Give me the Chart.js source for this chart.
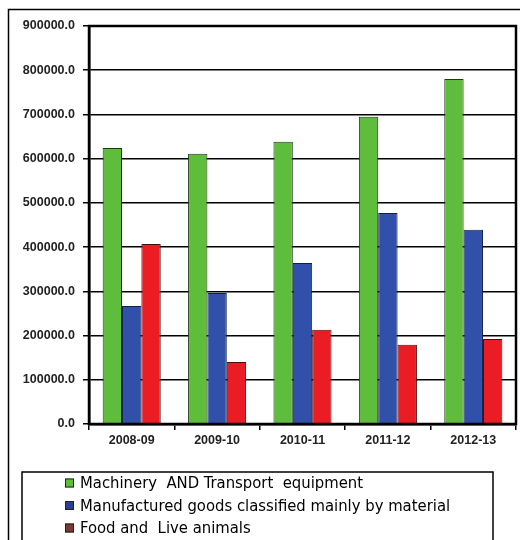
<!DOCTYPE html>
<html>
<head>
<meta charset="utf-8">
<script src="https://cdn.jsdelivr.net/npm/chart.js@4/dist/chart.umd.min.js"></script>
<style>
  html, body { margin: 0; padding: 0; background: #fff; }
  #wrap { width: 520px; height: 540px; position: relative; }
</style>
</head>
<body>
<div id="wrap"><canvas id="c" width="520" height="540"></canvas></div>
<script>
// ── Exports by commodity group, 2008-09 to 2012-13 ───────────────────────────
const years = ['2008-09', '2009-10', '2010-11', '2011-12', '2012-13'];
const machinery    = [624000, 611000, 638000, 695000, 780000];
const manufactured = [267000, 296000, 364000, 477000, 439000];
const food         = [407000, 140000, 213000, 179000, 192000];
const seriesNames  = [
  'Machinery  AND Transport  equipment',
  'Manufactured goods classified mainly by material',
  'Food and  Live animals'
];
const yMax = 900000;
const yStep = 100000;

const tickFont = { family: '"Liberation Sans", Arial, sans-serif', size: 12.5, weight: 'bold' };

// outer frame + plot frame, drawn around the library's chart area
const framePlugin = {
  id: 'frame',
  beforeDraw(chart) {
    const ctx = chart.ctx;
    ctx.save();
    ctx.fillStyle = '#fff';
    ctx.fillRect(0, 0, chart.width, chart.height);
    ctx.strokeStyle = '#000';
    ctx.lineWidth = 1.5;
    ctx.beginPath();
    ctx.moveTo(8.5, chart.height);
    ctx.lineTo(8.5, 9.5);
    ctx.lineTo(chart.width, 9.5);
    ctx.stroke();
    ctx.restore();
  },
  afterDatasetsDraw(chart) {
    const a = chart.chartArea, ctx = chart.ctx;
    ctx.save();
    ctx.strokeStyle = '#000';
    ctx.lineWidth = 2.5;
    ctx.strokeRect(a.left, a.top, a.right - a.left, a.bottom - a.top);
    ctx.restore();
  }
};

// boxed legend below the axis, one series per row
const boxLegend = {
  id: 'boxLegend',
  afterDraw(chart, args, opts) {
    const ctx = chart.ctx;
    ctx.save();
    ctx.strokeStyle = '#000';
    ctx.lineWidth = 1.5;
    ctx.strokeRect(22, 472, 471, 80);
    ctx.font = opts.font;
    ctx.textBaseline = 'middle';
    chart.data.datasets.forEach((ds, i) => {
      const y = 483 + i * 22.5;
      ctx.fillStyle = opts.swatches[i];
      ctx.fillRect(65, y - 4.5, 9, 9);
      ctx.strokeStyle = '#222';
      ctx.lineWidth = 1;
      ctx.strokeRect(65.5, y - 4, 8, 8);
      ctx.fillStyle = '#000';
      ctx.fillText(ds.label, 80, y + 1);
    });
    ctx.restore();
  }
};

new Chart(document.getElementById('c'), {
  type: 'bar',
  data: {
    labels: years,
    datasets: [
      { label: seriesNames[0], data: machinery,    backgroundColor: '#5fbd3c', borderColor: '#1d3a12' },
      { label: seriesNames[1], data: manufactured, backgroundColor: '#3150a9', borderColor: '#10204a' },
      { label: seriesNames[2], data: food,         backgroundColor: '#ec1c24', borderColor: '#4a0d0d' }
    ]
  },
  options: {
    responsive: false,
    animation: false,
    devicePixelRatio: 1,
    layout: { padding: { top: 26, right: 4, bottom: 86, left: 0 } },
    datasets: { bar: { borderWidth: 1, categoryPercentage: 0.68, barPercentage: 1 } },
    plugins: {
      legend: { display: false },
      tooltip: { enabled: false },
      boxLegend: {
        font: '16.5px "DejaVu Sans Condensed", "DejaVu Sans", Tahoma, sans-serif',
        swatches: ['#5fbd3c', '#2a3f8f', '#7a3a32']
      }
    },
    scales: {
      x: {
        grid: { offset: true, drawOnChartArea: false, drawTicks: true, tickLength: 6, color: '#000', lineWidth: 1.5 },
        border: { display: true, color: '#000', width: 2.5 },
        ticks: { color: '#222', font: tickFont, padding: 3 },
        afterFit(scale) { scale.height = 30; }
      },
      y: {
        min: 0,
        max: yMax,
        grid: { color: '#000', lineWidth: 1.5, tickLength: 6 },
        border: { display: true, color: '#000', width: 2.5 },
        ticks: { stepSize: yStep, color: '#222', font: tickFont, padding: 8,
                 callback: v => Number(v).toFixed(1) },
        afterFit(scale) { scale.width = 89; }
      }
    }
  },
  plugins: [framePlugin, boxLegend]
});
</script>
</body>
</html>
